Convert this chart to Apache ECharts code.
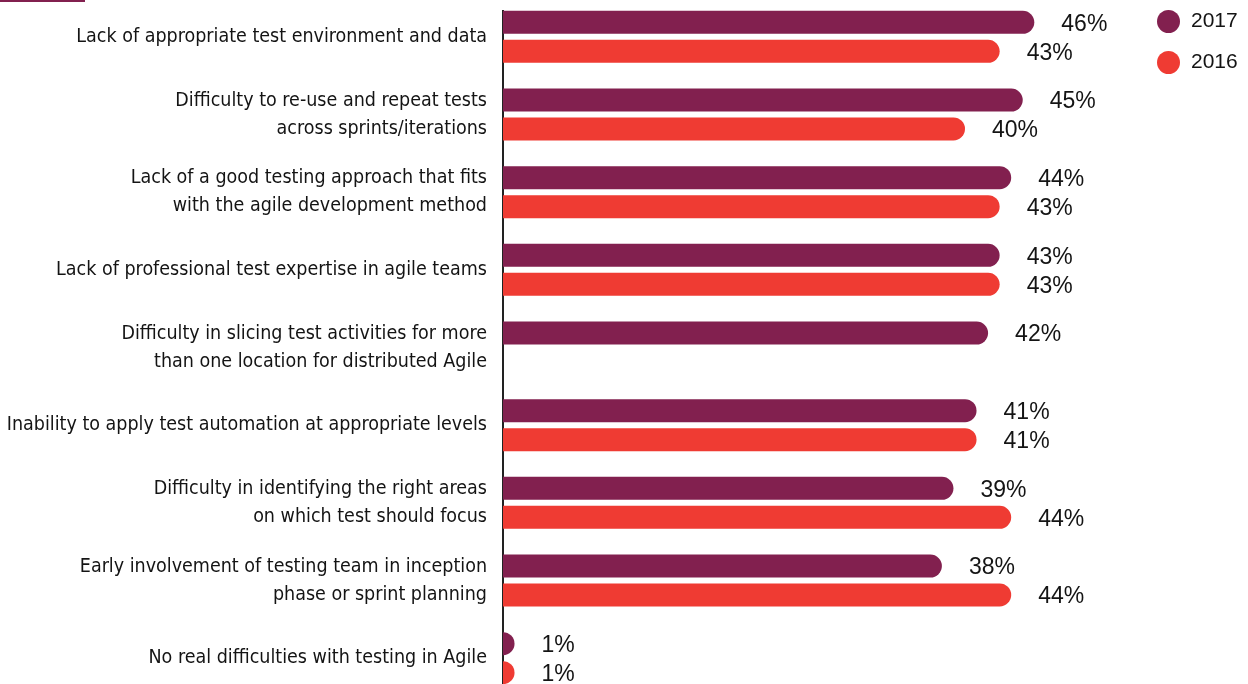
<!DOCTYPE html>
<html><head><meta charset="utf-8">
<script src="https://cdn.jsdelivr.net/npm/echarts@6/dist/echarts.min.js"></script>
<style>html,body{margin:0;padding:0;background:#fff}#c{width:1248px;height:684px}</style>
</head><body><div id="c"></div>
<script>
const categories = [
  "Lack of appropriate test environment and data",
  "Difficulty to re-use and repeat tests\nacross sprints/iterations",
  "Lack of a good testing approach that fits\nwith the agile development method",
  "Lack of professional test expertise in agile teams",
  "Difficulty in slicing test activities for more\nthan one location for distributed Agile",
  "Inability to apply test automation at appropriate levels",
  "Difficulty in identifying the right areas\non which test should focus",
  "Early involvement of testing team in inception\nphase or sprint planning",
  "No real difficulties with testing in Agile"
];
const values2017 = [46, 45, 44, 43, 42, 41, 39, 38, 1];
const values2016 = [43, 40, 43, 43, null, 41, 44, 44, 1];
const seriesNames = ["2017", "2016"];

const PURPLE = "#82204f";
const RED = "#ef3b33";
const chart = echarts.init(document.getElementById('c'), null, {renderer: 'canvas'});
const labelStyle = {
  show: true, position: 'right', distance: 27,
  formatter: p => p.value + '%',
  color: '#141414', fontSize: 23, fontFamily: '"Liberation Sans", Arial, sans-serif',
  offset: [0, 2]
};
chart.setOption({
  animation: false,
  graphic: [
    {type: 'rect', left: 0, top: 0, shape: {width: 85, height: 2}, style: {fill: PURPLE}},
    {type: 'line', shape: {x1: 503, y1: 10, x2: 503, y2: 684}, style: {stroke: '#222', lineWidth: 2}}
  ],
  legend: {
    orient: 'vertical', left: 1157, top: 10, padding: 0, itemWidth: 23, itemHeight: 23, itemGap: 18,
    icon: 'circle',
    textStyle: {fontSize: 21, color: '#141414', fontFamily: '"Liberation Sans", Arial, sans-serif', padding: [0,0,0,6]},
    data: seriesNames
  },
  grid: {left: 503, top: -2, width: 693, height: 699, containLabel: false, outerBoundsMode: 'none'},
  xAxis: {type: 'value', min: 0, max: 60, show: false},
  yAxis: {
    type: 'category', data: categories, inverse: true,
    axisLine: {show: false},
    axisTick: {show: false},
    axisLabel: {
      margin: 16, fontSize: 19.5, color: '#141414', lineHeight: 28, padding: [0, 0, 2, 0],
      fontFamily: '"Liberation Sans Narrow", "DejaVu Sans Condensed", "Roboto Condensed", "Arial Narrow", Roboto, sans-serif'
    }
  },
  series: [
    {name: seriesNames[0], type: 'bar', data: values2017, barWidth: 23, barGap: '26%',
     itemStyle: {color: PURPLE, borderRadius: [0, 12, 12, 0]}, label: labelStyle},
    {name: seriesNames[1], type: 'bar', data: values2016, barWidth: 23, barGap: '26%',
     itemStyle: {color: RED, borderRadius: [0, 12, 12, 0]}, label: labelStyle}
  ]
});
</script></body></html>
